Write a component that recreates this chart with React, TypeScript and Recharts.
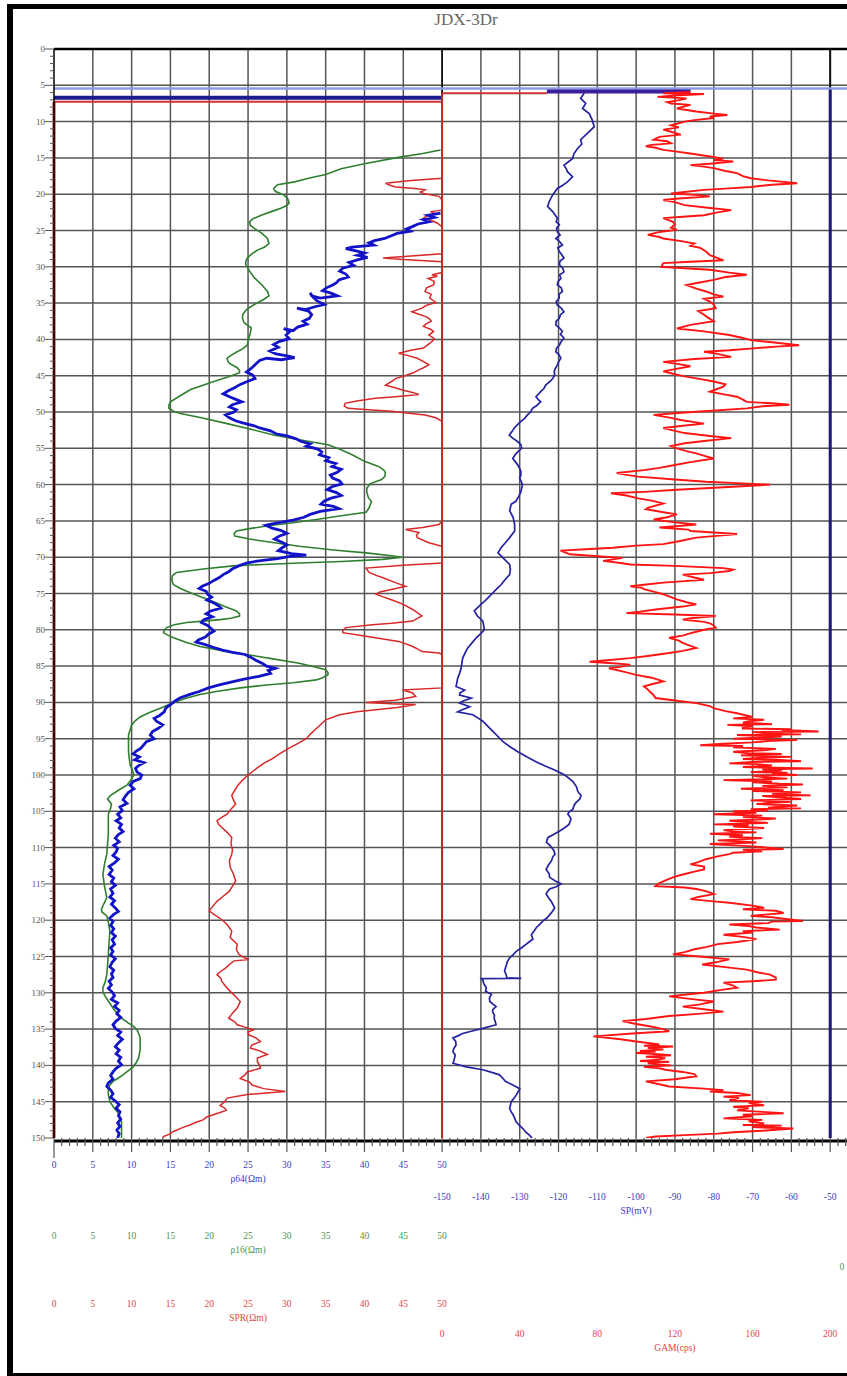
import React from 'react';
import { LineChart, Line, XAxis, YAxis, CartesianGrid, ReferenceLine } from 'recharts';

// ---------- data (depth d, value) ----------
const RHO16: [number, number][] = [
[13.9,49.8],[14.4,47.5],[15.0,44.0],[15.8,40.0],[16.5,37.0],[17.3,35.0],[17.8,32.8],[18.3,31.0],[18.7,28.8],[19.2,28.3],[19.6,28.5],[20.1,29.6],[20.6,30.1],[21.2,30.3],[21.6,29.9],[21.9,29.3],[22.4,28.0],[22.9,26.7],[23.4,25.6],[23.8,25.2],[24.3,25.3],[24.7,25.8],[25.4,26.8],[26.1,27.5],[26.8,27.7],[27.3,27.1],[27.7,26.2],[28.3,25.4],[28.8,24.9],[29.3,24.7],[29.7,24.7],[30.6,25.2],[31.5,25.8],[32.5,26.8],[33.4,27.5],[34.0,27.7],[34.5,27.0],[35.2,25.8],[35.9,24.8],[36.6,24.3],[37.2,24.3],[37.7,24.5],[38.4,25.4],[39.1,25.3],[39.8,25.1],[40.8,24.9],[41.3,24.3],[41.7,23.6],[42.2,22.8],[42.6,22.3],[43.0,22.4],[43.3,22.6],[43.9,23.6],[44.3,23.9],[44.6,23.9],[45.2,22.3],[45.8,20.6],[46.4,19.0],[46.9,17.6],[47.8,16.2],[48.6,15.0],[49.1,14.8],[49.5,14.8],[49.9,15.4],[50.2,16.3],[50.8,19.0],[51.6,22.3],[52.4,25.5],[53.2,28.4],[53.9,32.0],[54.5,35.3],[55.2,37.0],[56.0,38.6],[56.8,40.0],[57.5,41.8],[58.0,42.5],[58.4,42.7],[58.9,42.6],[59.3,42.2],[59.9,40.7],[60.5,40.3],[61.0,40.3],[61.8,40.5],[62.3,40.9],[63.2,40.6],[63.8,40.2],[64.3,37.0],[64.8,33.8],[65.3,30.5],[65.7,27.4],[66.1,25.0],[66.4,23.5],[66.8,23.2],[67.1,23.3],[67.5,25.2],[68.0,28.4],[68.5,31.6],[69.0,36.0],[69.4,40.2],[69.8,43.5],[70.0,44.9],[70.3,42.3],[70.6,37.0],[70.8,31.6],[71.0,27.0],[71.2,23.1],[71.6,19.5],[72.1,15.8],[72.5,15.3],[72.8,15.2],[73.3,15.2],[73.8,15.4],[74.3,16.3],[74.7,17.1],[75.4,18.8],[76.1,20.5],[76.8,22.0],[77.4,23.5],[77.8,23.9],[78.1,23.9],[78.4,22.8],[78.6,21.4],[78.8,19.2],[79.0,17.1],[79.3,15.5],[79.7,14.5],[80.1,14.2],[80.4,14.1],[80.8,14.8],[81.1,15.4],[81.7,17.0],[82.3,18.8],[82.9,21.8],[83.4,24.8],[84.0,28.2],[84.6,31.6],[85.1,33.5],[85.5,35.0],[85.9,35.3],[86.2,35.3],[86.6,34.6],[86.9,33.8],[87.3,30.8],[87.6,27.4],[88.0,24.0],[88.5,20.9],[88.9,18.8],[89.4,17.1],[89.8,16.0],[90.3,14.8],[90.8,13.7],[91.4,12.3],[92.0,11.1],[92.5,10.5],[93.1,10.0],[93.8,9.8],[94.5,9.6],[95.6,9.6],[96.8,9.6],[97.7,9.7],[98.6,9.8],[99.3,10.1],[100.0,10.3],[100.7,9.9],[101.4,9.4],[102.1,8.3],[102.8,7.3],[103.3,6.9],[104.0,7.4],[104.6,7.3],[105.4,7.0],[106.5,7.0],[108.1,7.0],[109.5,6.9],[110.9,6.8],[112.3,6.5],[113.7,6.3],[115.3,6.5],[116.9,6.8],[117.8,6.4],[118.5,6.1],[118.9,6.2],[119.4,6.8],[120.3,7.0],[121.5,7.2],[123.0,7.1],[124.7,7.0],[126.2,6.9],[127.5,6.8],[128.5,6.6],[129.3,6.3],[129.9,6.3],[130.5,6.6],[131.3,7.1],[132.1,7.6],[132.8,8.1],[133.5,8.7],[134.1,9.5],[134.6,10.2],[135.1,10.7],[135.6,10.9],[136.2,11.1],[136.7,11.1],[137.8,11.1],[139.0,10.9],[139.6,10.6],[140.2,10.2],[140.8,9.5],[141.3,8.9],[141.8,8.2],[142.2,7.6],[142.7,7.2],[143.2,7.0],[144.0,7.0],[145.0,7.2],[145.8,7.7],[146.6,8.3],[147.2,8.5],[147.8,8.7],[148.7,8.7],[150,8.7]];

const RHO64: [number, number][] = [
[22.6,49.8],[22.9,48.2],[23.2,49.0],[23.5,47.6],[23.8,48.3],[24.1,46.9],[24.5,46.1],[24.8,45.4],[25.1,45.9],[25.4,44.2],[25.8,43.3],[26.1,42.6],[26.4,41.3],[26.7,40.6],[27.0,41.2],[27.3,38.4],[27.5,37.6],[27.8,38.9],[28.1,40.0],[28.4,39.1],[28.7,40.4],[29.0,39.2],[29.4,38.0],[29.8,38.6],[30.2,37.2],[30.6,36.8],[31.0,37.6],[31.4,37.9],[31.8,36.7],[32.2,36.4],[32.5,35.9],[32.9,35.1],[33.3,34.6],[33.6,35.6],[34.0,36.5],[34.3,34.3],[34.0,33.2],[33.6,33.0],[34.2,33.4],[34.7,33.9],[35.2,34.8],[35.5,33.6],[35.9,32.4],[35.7,31.3],[36.1,32.8],[36.6,33.2],[37.1,32.9],[37.5,32.1],[37.9,32.6],[38.3,31.4],[38.8,30.8],[38.5,29.6],[38.9,30.4],[39.4,29.9],[39.9,30.3],[40.3,29.0],[40.7,28.3],[41.1,28.9],[41.6,27.8],[42.0,28.6],[42.3,30.2],[42.5,31.0],[42.8,29.3],[42.6,27.4],[42.9,26.5],[43.4,26.0],[44.0,25.4],[44.5,24.8],[44.9,25.6],[45.4,25.9],[45.8,24.9],[46.2,24.0],[46.7,23.2],[47.1,22.4],[47.5,21.8],[47.9,22.6],[48.3,23.5],[48.6,24.2],[49.0,23.0],[49.3,22.6],[49.7,23.5],[50.0,23.2],[50.4,22.1],[50.8,22.6],[51.2,23.4],[51.5,24.3],[51.9,25.8],[52.2,26.5],[52.6,27.9],[53.0,28.6],[53.3,30.0],[53.7,31.2],[54.0,31.7],[54.4,33.0],[54.7,32.5],[55.1,34.0],[55.5,34.5],[55.9,34.2],[56.3,35.4],[56.7,35.0],[57.1,36.3],[57.5,35.8],[57.9,37.0],[58.3,36.5],[58.7,35.6],[59.1,35.9],[59.5,36.8],[59.9,37.1],[60.3,35.8],[60.7,35.2],[61.1,36.4],[61.5,37.0],[61.9,35.6],[62.3,34.8],[62.7,34.4],[63.0,36.0],[63.3,36.7],[63.7,34.3],[64.1,33.0],[64.5,32.2],[64.9,30.8],[65.3,28.6],[65.6,27.3],[66.0,28.1],[66.3,29.2],[66.7,30.0],[67.1,29.0],[67.5,28.4],[67.9,29.3],[68.3,30.0],[68.7,29.4],[69.1,28.9],[69.5,30.6],[69.7,32.5],[69.9,30.4],[70.2,28.8],[70.5,26.4],[70.8,24.8],[71.2,23.8],[71.6,23.0],[72.0,22.5],[72.4,21.8],[72.8,21.3],[73.2,20.6],[73.6,20.0],[74.0,19.1],[74.3,18.7],[74.7,19.6],[75.1,19.8],[75.5,20.3],[75.9,19.7],[76.3,20.6],[76.7,21.2],[77.0,21.5],[77.4,20.2],[77.8,19.6],[78.2,20.4],[78.6,19.3],[79.0,19.0],[79.4,19.8],[79.8,20.2],[80.2,20.6],[80.6,19.9],[81.0,19.5],[81.4,18.6],[81.7,18.3],[82.0,19.4],[82.4,20.5],[82.8,21.7],[83.1,23.0],[83.4,24.6],[83.8,25.4],[84.2,26.0],[84.6,26.8],[85.0,27.4],[85.3,28.5],[85.6,27.6],[86.0,27.9],[86.4,26.4],[86.8,24.5],[87.2,22.8],[87.6,21.3],[88.0,19.9],[88.5,18.7],[88.9,17.5],[89.4,16.2],[89.8,15.6],[90.3,15.0],[90.8,14.4],[91.3,14.2],[91.8,13.6],[92.2,12.9],[92.6,13.2],[93.1,14.0],[93.6,13.4],[94.0,12.7],[94.5,12.4],[95.0,12.9],[95.4,11.9],[95.8,11.6],[96.3,11.2],[96.7,10.6],[97.1,10.2],[97.5,11.0],[97.9,10.4],[98.3,11.6],[98.7,10.9],[99.1,10.5],[99.6,10.7],[100.0,11.3],[100.5,11.1],[100.9,10.2],[101.4,9.8],[101.9,10.3],[102.4,9.6],[102.9,9.2],[103.4,8.9],[103.9,9.4],[104.4,8.5],[104.9,8.8],[105.4,8.2],[105.9,8.6],[106.3,8.0],[106.8,8.7],[107.3,8.4],[107.8,8.9],[108.2,8.3],[108.7,7.9],[109.2,8.4],[109.7,7.7],[110.1,8.2],[110.6,8.0],[111.1,7.6],[111.6,8.3],[112.1,7.8],[112.6,7.1],[113.1,7.5],[113.7,7.1],[114.2,7.7],[114.7,7.4],[115.2,7.9],[115.7,7.3],[116.3,7.6],[116.8,7.2],[117.3,7.8],[117.8,7.4],[118.3,7.9],[118.8,8.3],[119.2,7.7],[119.7,7.2],[120.2,7.6],[120.7,7.3],[121.2,7.7],[121.7,7.4],[122.2,7.9],[122.7,7.5],[123.3,7.8],[123.8,7.3],[124.3,7.6],[124.8,7.3],[125.3,7.9],[125.8,7.5],[126.4,7.2],[126.9,7.7],[127.4,7.4],[127.9,7.6],[128.4,7.1],[128.9,7.4],[129.4,7.0],[129.9,7.5],[130.4,7.8],[130.9,7.4],[131.4,8.2],[131.9,7.8],[132.4,8.4],[132.9,8.1],[133.4,8.6],[133.9,8.0],[134.4,7.6],[134.9,7.9],[135.4,8.6],[135.9,8.2],[136.4,8.8],[136.9,8.3],[137.4,7.9],[137.9,8.4],[138.4,8.0],[138.9,8.6],[139.4,8.3],[139.9,8.7],[140.4,8.0],[140.9,7.6],[141.4,7.3],[141.9,7.6],[142.4,7.0],[142.9,6.8],[143.4,7.3],[143.9,7.6],[144.4,7.3],[144.9,7.9],[145.4,8.4],[145.9,8.0],[146.4,8.5],[146.9,8.3],[147.4,8.6],[147.9,8.2],[148.4,8.5],[148.9,8.1],[149.4,8.4],[150,8.2]];

const SPR: [number, number][] = [
[7.3,50],[17.8,50],[18.1,46],[18.5,42.7],[18.8,43.4],[19.0,44.0],[19.2,46.5],[19.4,47.8],[19.7,47.2],[19.9,47.6],[20.3,49.6],[20.8,50],[22.2,50],[22.4,48.5],[22.7,49.2],[23.0,48.0],[23.3,47.6],[23.7,48.8],[24.0,49.4],[24.5,50],[28.2,50],[28.5,46],[28.8,42.4],[29.0,45],[29.3,50],[30.8,50],[31.1,48.7],[31.3,49.4],[31.6,48.2],[32.0,49.0],[32.5,48.9],[32.9,48.0],[33.4,47.8],[33.8,48.6],[34.3,48.4],[34.9,49.2],[35.3,48.0],[35.7,47.4],[36.0,46.6],[36.2,46.1],[36.5,46.9],[36.9,48.0],[37.2,48.4],[37.5,48.6],[37.9,47.9],[38.2,47.6],[38.6,48.5],[38.9,48.9],[39.4,48.3],[39.9,49.0],[40.3,48.7],[40.8,48.1],[41.2,47.6],[41.5,46.0],[41.9,44.4],[42.2,45.5],[42.6,46.8],[43.0,47.5],[43.5,48.3],[43.9,47.6],[44.2,47.0],[44.6,46.3],[45.0,45.2],[45.4,44.0],[45.8,43.5],[46.3,42.7],[46.6,43.7],[47.0,45.0],[47.3,46.2],[47.6,47.0],[47.9,44.0],[48.1,41.4],[48.5,39.0],[48.8,37.5],[49.2,37.4],[49.5,37.9],[49.7,40.5],[49.9,43.5],[50.2,46.0],[50.4,47.8],[50.8,49.2],[51.3,50],[65.0,50],[65.5,49.6],[65.9,47.5],[66.2,45.3],[66.6,47.0],[67.0,46.7],[67.3,46.8],[68.0,48.3],[68.5,50],[70.8,50],[71.1,45],[71.5,40.2],[72.1,40.6],[72.5,41.5],[72.8,42.3],[73.5,44.0],[74.0,45.3],[74.4,43.6],[74.8,42.0],[75.1,41.5],[75.5,42.5],[75.8,43.3],[76.5,45.0],[77.2,46.2],[78.1,47.4],[78.8,46.2],[79.1,43.5],[79.3,41.0],[79.7,37.6],[80.1,37.2],[80.4,37.2],[80.9,40.2],[81.6,44.4],[82.2,46.0],[82.5,46.6],[83.0,47.4],[83.2,49.6],[83.4,50],[88.0,50],[88.3,44.9],[88.7,46.2],[89.2,46.6],[89.5,45.0],[89.7,44.0],[90.0,40.2],[90.2,43.5],[90.3,46.6],[90.5,45.5],[90.7,44.2],[91.0,41.5],[91.3,39.0],[91.7,36.8],[92.4,35.0],[93.0,34.4],[93.6,33.8],[94.3,33.1],[95.0,32.5],[95.6,31.5],[96.3,30.3],[97.0,29.2],[97.7,28.2],[98.4,27.0],[99.1,26.1],[100.0,25.0],[100.7,24.3],[101.4,23.7],[102.1,23.3],[102.8,22.9],[103.4,23.1],[104.0,23.4],[104.7,22.8],[105.4,22.3],[105.9,21.5],[106.3,21.0],[106.8,21.2],[107.2,21.6],[107.9,22.3],[108.6,22.9],[109.5,22.8],[110.3,23.0],[110.9,22.9],[111.8,22.6],[112.7,22.7],[113.6,23.1],[114.6,23.4],[115.3,23.0],[116.0,22.6],[116.7,21.8],[117.4,21.0],[118.3,20.3],[118.7,20.0],[119.2,20.6],[119.9,21.6],[120.6,22.3],[121.5,22.9],[122.4,22.7],[123.3,23.6],[124.0,23.5],[124.7,23.8],[125.2,24.6],[125.4,25.1],[125.6,23.2],[126.1,22.6],[126.6,22.1],[127.1,21.4],[127.5,21.0],[128.0,21.5],[128.4,21.6],[129.1,22.1],[129.8,22.7],[130.5,23.4],[131.2,24.0],[132.1,23.6],[132.8,23.0],[133.5,22.5],[134.0,23.3],[134.4,23.6],[134.8,24.8],[135.1,25.7],[135.4,25.0],[135.8,25.1],[136.2,26.0],[136.7,26.6],[137.2,25.5],[137.6,25.3],[138.0,26.5],[138.5,27.5],[139.0,26.2],[139.5,26.2],[140.0,26.5],[140.4,26.6],[140.9,24.9],[141.3,24.6],[141.8,24.0],[142.3,25.2],[142.7,25.5],[143.2,27.0],[143.6,29.8],[144.0,24.9],[144.5,22.3],[145.0,22.0],[145.5,21.4],[145.9,22.0],[146.2,22.2],[146.7,20.8],[147.1,19.7],[147.5,19.2],[147.8,18.4],[148.2,17.5],[148.5,16.7],[149.1,15.4],[149.5,14.8],[149.8,14.1],[150,14.0]];

const SP: [number, number][] = [
[6.1,-113.4],[6.8,-114.3],[7.5,-113.0],[8.2,-113.8],[8.9,-112.1],[9.8,-111.3],[10.7,-110.8],[11.6,-112.5],[12.5,-114.3],[13.1,-114.0],[13.7,-115.1],[14.4,-116.0],[15.1,-116.4],[15.6,-117.6],[16.0,-118.6],[16.5,-118.0],[16.9,-117.7],[17.6,-116.4],[18.3,-117.7],[18.8,-119.0],[19.2,-120.3],[20.1,-121.5],[21.0,-122.4],[21.7,-122.8],[22.4,-121.5],[23.3,-120.3],[23.8,-120.6],[24.2,-119.8],[24.7,-120.5],[25.2,-120.3],[25.6,-119.6],[26.1,-120.7],[26.5,-119.8],[27.0,-119.0],[27.4,-120.2],[27.9,-119.8],[28.3,-119.2],[28.8,-118.6],[29.2,-119.6],[29.7,-119.8],[30.2,-118.9],[30.7,-118.6],[31.1,-119.7],[31.6,-119.4],[32.0,-120.1],[32.5,-120.3],[32.9,-119.3],[33.4,-119.0],[33.8,-119.9],[34.3,-119.8],[34.8,-120.6],[35.3,-120.3],[35.7,-119.3],[36.2,-118.6],[36.6,-119.5],[37.1,-119.8],[37.5,-120.6],[38.0,-120.7],[38.4,-119.8],[38.9,-119.0],[39.3,-119.5],[39.8,-118.6],[40.3,-119.3],[40.8,-119.8],[41.2,-120.5],[41.7,-120.7],[42.1,-119.9],[42.6,-119.4],[43.0,-119.9],[43.5,-120.3],[44.0,-120.8],[44.4,-121.1],[44.9,-121.0],[45.4,-121.5],[45.8,-122.2],[46.3,-123.3],[46.8,-123.8],[47.2,-124.6],[47.9,-125.8],[48.3,-125.2],[48.6,-124.6],[49.1,-125.6],[49.5,-126.7],[50.0,-127.2],[50.4,-128.0],[50.9,-128.8],[51.3,-129.7],[51.7,-130.5],[52.2,-131.4],[52.7,-132.0],[53.2,-132.7],[53.6,-131.8],[54.1,-130.5],[54.5,-129.7],[55.0,-129.5],[55.5,-130.5],[55.9,-131.2],[56.4,-131.8],[56.8,-131.2],[57.3,-130.5],[57.8,-130.0],[58.2,-129.7],[58.7,-129.7],[59.1,-130.0],[59.6,-129.6],[60.0,-129.3],[60.5,-129.5],[61.0,-129.7],[61.6,-130.2],[62.3,-131.0],[62.7,-132.2],[63.6,-132.6],[64.5,-131.7],[65.5,-131.3],[66.4,-131.3],[67.3,-132.6],[68.0,-133.7],[68.7,-134.8],[69.4,-135.6],[70.1,-134.3],[71.0,-132.6],[71.7,-132.4],[72.4,-132.6],[73.1,-133.8],[73.8,-134.8],[74.3,-135.8],[74.9,-136.9],[75.5,-138.0],[76.1,-139.1],[76.7,-140.4],[77.4,-141.7],[78.1,-140.9],[78.8,-139.5],[79.4,-139.3],[80.0,-139.1],[80.5,-140.0],[81.1,-141.2],[81.8,-142.3],[82.5,-143.4],[83.2,-144.1],[83.9,-144.7],[84.6,-144.9],[85.3,-145.1],[86.0,-145.5],[86.7,-146.0],[87.3,-146.2],[87.8,-146.4],[88.3,-144.2],[88.7,-145.4],[89.0,-145.5],[89.4,-142.5],[89.8,-144.6],[90.1,-145.5],[90.6,-142.9],[91.0,-144.8],[91.3,-146.0],[91.7,-142.1],[92.2,-140.6],[92.6,-139.5],[93.3,-138.2],[94.0,-136.9],[94.7,-135.6],[95.4,-134.3],[96.1,-132.5],[96.8,-130.5],[97.5,-128.2],[98.2,-125.7],[98.8,-123.3],[99.3,-121.0],[100.0,-118.4],[100.5,-117.2],[100.9,-116.3],[101.6,-115.4],[102.3,-115.0],[102.8,-114.2],[103.3,-114.5],[103.8,-115.5],[104.2,-116.0],[104.7,-116.3],[105.1,-117.3],[105.4,-117.6],[105.8,-117.0],[106.1,-116.8],[106.5,-117.1],[106.8,-117.3],[107.3,-118.5],[107.7,-119.7],[108.2,-121.3],[108.6,-122.7],[109.0,-123.0],[109.3,-123.1],[109.7,-122.2],[110.0,-121.8],[110.4,-121.2],[110.9,-120.9],[111.3,-121.5],[111.8,-121.8],[112.4,-122.6],[113.0,-123.2],[113.6,-122.4],[114.1,-122.3],[114.6,-120.8],[115.0,-119.3],[115.4,-120.6],[115.7,-122.3],[116.1,-122.9],[116.4,-123.2],[116.9,-122.6],[117.4,-121.9],[117.9,-121.4],[118.3,-121.0],[118.8,-121.6],[119.2,-122.2],[119.7,-123.0],[120.1,-124.0],[120.6,-124.9],[121.0,-125.7],[121.5,-126.3],[122.0,-127.0],[122.6,-126.6],[123.0,-127.6],[123.3,-128.3],[123.8,-129.5],[124.3,-130.9],[124.8,-131.8],[125.2,-132.6],[125.7,-133.2],[126.1,-133.4],[126.6,-133.7],[127.0,-133.9],[127.5,-133.5],[127.95,-133.3],[128.0,-129.6],[128.05,-139.9],[128.3,-139.5],[128.8,-139.2],[129.3,-138.6],[129.8,-138.8],[130.2,-137.3],[130.7,-137.8],[131.2,-137.7],[131.6,-136.8],[131.9,-136.1],[132.3,-136.9],[132.6,-137.0],[133.1,-136.5],[133.5,-136.6],[134.0,-136.3],[134.4,-136.1],[134.9,-139.5],[135.3,-142.5],[135.6,-144.7],[136.0,-146.2],[136.2,-147.2],[136.7,-146.5],[137.2,-146.4],[137.7,-147.0],[138.1,-147.2],[138.6,-146.6],[139.0,-146.8],[139.4,-147.0],[139.7,-147.2],[140.2,-143.8],[140.6,-139.5],[141.0,-137.0],[141.3,-135.2],[141.8,-134.3],[142.2,-133.7],[142.7,-131.8],[143.2,-130.0],[143.6,-130.4],[144.1,-130.9],[144.6,-131.6],[145.0,-132.2],[145.5,-132.4],[145.9,-132.6],[146.4,-132.2],[146.8,-131.7],[147.3,-131.3],[147.8,-130.9],[148.2,-130.2],[148.7,-129.2],[149.2,-128.4],[149.6,-127.5],[150,-126.8]];

const GR: [number, number][] = [
[5.9,128],[6.1,114],[6.2,135],[6.4,120],[6.6,111],[6.8,126],[7.0,123],[7.3,116],[7.5,118],[7.7,128],[7.9,125],[8.2,121],[8.6,131],[8.9,140],[9.1,147],[9.3,138],[9.5,140],[9.8,130],[10.0,125],[10.3,121],[10.5,118],[10.8,122],[11.1,114],[11.4,118],[11.8,123],[12.1,112],[12.5,109],[12.7,116],[13.0,118],[13.2,108],[13.4,105],[13.6,110],[13.9,114],[14.1,120],[14.4,128],[14.8,138],[15.1,145],[15.3,140],[15.5,150],[15.8,138],[16.0,128],[16.2,135],[16.4,140],[16.8,146],[17.1,152],[17.5,155],[17.8,159],[18.1,168],[18.5,183],[18.7,170],[19.0,159],[19.2,148],[19.4,135],[19.7,125],[19.9,118],[20.1,130],[20.3,138],[20.6,122],[20.8,114],[21.1,120],[21.5,125],[21.9,138],[22.2,149],[22.5,142],[22.9,135],[23.1,124],[23.3,114],[23.8,119],[24.2,120],[24.6,118],[24.9,121],[25.2,112],[25.6,106],[25.9,112],[26.1,114],[26.5,124],[26.8,130],[27.1,128],[27.4,133],[27.9,136],[28.4,138],[28.8,142],[29.1,145],[29.3,128],[29.5,114],[30.0,113],[30.2,125],[30.4,138],[30.8,148],[31.1,157],[31.4,146],[31.8,140],[32.2,132],[32.5,126],[33.0,131],[33.4,136],[33.8,140],[34.1,145],[34.4,135],[34.8,138],[35.2,140],[35.7,141],[36.1,132],[36.6,135],[37.0,137],[37.5,140],[38.0,128],[38.5,121],[38.9,135],[39.4,148],[39.8,155],[40.1,159],[40.4,170],[40.8,184],[41.0,172],[41.2,162],[41.5,148],[41.7,135],[42.0,142],[42.4,149],[42.7,130],[43.1,114],[43.4,122],[43.7,128],[44.1,120],[44.4,114],[44.8,120],[45.1,125],[45.5,134],[45.8,140],[46.2,146],[46.5,145],[46.9,141],[47.2,138],[47.6,146],[47.9,152],[48.3,155],[48.6,157],[48.8,170],[49.0,179],[49.2,165],[49.5,157],[49.9,135],[50.2,118],[50.4,109],[50.8,118],[51.1,123],[51.4,130],[51.6,135],[51.9,124],[52.2,114],[52.6,120],[52.9,125],[53.3,138],[53.6,149],[54.0,135],[54.3,125],[54.7,118],[55.0,121],[55.4,126],[55.7,131],[56.1,136],[56.4,140],[56.9,128],[57.3,120],[57.7,112],[58.0,104],[58.4,90],[58.7,96],[58.9,101],[59.3,120],[59.6,136],[59.8,152],[60.0,169],[60.3,150],[60.7,121],[61.0,104],[61.2,87],[61.5,95],[61.9,101],[62.2,108],[62.6,114],[62.9,110],[63.2,106],[63.4,105],[63.8,114],[64.1,121],[64.5,116],[64.8,109],[65.2,120],[65.5,131],[65.7,122],[65.9,112],[66.2,127],[66.4,128],[66.8,152],[67.1,140],[67.3,131],[67.8,122],[68.2,114],[68.4,100],[68.7,88],[68.9,74],[69.1,61],[69.4,64],[69.6,66],[69.9,82],[70.1,93],[70.3,88],[70.5,83],[70.8,92],[71.0,97],[71.2,120],[71.5,145],[71.7,150],[71.9,148],[72.2,138],[72.4,124],[72.8,130],[73.1,135],[73.3,125],[73.5,114],[73.8,104],[74.0,97],[74.2,103],[74.4,104],[74.8,110],[75.1,114],[75.5,118],[75.8,121],[76.2,126],[76.5,131],[76.8,124],[77.2,110],[77.5,102],[77.7,95],[77.9,120],[78.1,141],[78.4,128],[78.6,124],[78.9,135],[79.1,138],[79.4,140],[79.7,141],[80.0,135],[80.4,129],[80.8,124],[81.1,117],[81.5,122],[81.8,124],[82.2,128],[82.5,131],[82.9,124],[83.2,117],[83.6,106],[83.9,97],[84.2,85],[84.4,76],[84.6,88],[84.8,97],[85.1,92],[85.3,86],[85.8,94],[86.2,100],[86.6,108],[87.1,114],[87.5,108],[87.8,104],[88.2,106],[88.5,107],[89.0,109],[89.4,110],[89.8,122],[90.1,131],[90.5,138],[90.8,140],[91.2,146],[91.5,152],[92.0,160],[92.2,150],[92.4,166],[92.6,158],[92.8,155],[93.0,170],[93.1,147],[93.3,160],[93.4,155],[93.6,155],[93.7,180],[93.8,175],[94.0,194],[94.1,160],[94.3,170],[94.4,185],[94.5,152],[94.7,175],[94.8,168],[95.0,150],[95.2,183],[95.3,170],[95.5,160],[95.7,145],[95.9,133],[96.0,155],[96.2,150],[96.4,172],[96.6,166],[96.8,150],[97.0,158],[97.1,175],[97.3,154],[97.5,180],[97.6,165],[97.8,155],[97.9,172],[98.1,185],[98.2,160],[98.4,148],[98.5,162],[98.7,170],[98.9,155],[99.1,191],[99.2,165],[99.4,175],[99.6,159],[99.7,178],[99.8,170],[100.0,183],[100.1,160],[100.3,165],[100.5,178],[100.7,145],[100.9,170],[101.0,160],[101.2,174],[101.3,186],[101.5,165],[101.7,178],[101.9,154],[102.1,176],[102.2,160],[102.4,185],[102.6,170],[102.8,190],[102.9,165],[103.1,175],[103.3,185],[103.5,159],[103.7,180],[103.8,170],[104.0,162],[104.2,183],[104.4,172],[104.5,168],[104.6,185],[104.7,159],[104.9,168],[105.0,150],[105.2,162],[105.4,140],[105.6,165],[105.8,155],[106.0,172],[106.1,166],[106.3,148],[106.4,155],[106.6,168],[106.8,140],[106.9,158],[107.1,150],[107.3,166],[107.4,159],[107.6,145],[107.8,150],[107.9,162],[108.1,138],[108.3,155],[108.5,148],[108.7,165],[108.8,159],[109.0,142],[109.1,150],[109.3,162],[109.5,138],[109.7,150],[109.8,158],[110.0,168],[110.2,176],[110.3,155],[110.5,165],[110.7,150],[110.9,148],[111.2,142],[111.6,136],[112.0,132],[112.3,128],[112.6,135],[113.0,135],[113.3,130],[113.7,124],[114.0,120],[114.4,116],[114.9,112],[115.3,110],[115.5,125],[115.7,131],[116.0,136],[116.4,140],[116.8,132],[117.1,128],[117.4,140],[117.6,148],[118.0,160],[118.3,166],[118.5,155],[118.7,172],[119.0,176],[119.2,168],[119.4,159],[119.6,170],[119.8,176],[120.1,186],[120.2,170],[120.4,168],[120.6,148],[120.8,158],[121.0,162],[121.3,174],[121.5,155],[121.7,160],[122.0,145],[122.3,155],[122.6,162],[123.0,152],[123.3,142],[123.7,136],[124.0,130],[124.4,125],[124.7,119],[125.0,133],[125.4,148],[125.8,141],[126.1,134],[126.5,147],[126.8,157],[127.2,163],[127.5,169],[127.9,172],[128.2,172],[128.4,160],[128.6,145],[129.0,150],[129.3,152],[129.6,144],[130.0,135],[130.2,127],[130.5,117],[130.9,130],[131.2,140],[131.6,133],[131.9,124],[132.3,136],[132.6,145],[132.9,132],[133.2,117],[133.6,105],[133.9,93],[134.3,100],[134.6,107],[135.0,114],[135.3,117],[135.6,98],[136.0,78],[136.4,92],[136.7,100],[137.1,112],[137.3,104],[137.4,119],[137.6,106],[137.8,114],[138.0,102],[138.1,110],[138.3,100],[138.4,108],[138.6,118],[138.8,105],[139.0,115],[139.2,112],[139.4,102],[139.5,117],[139.7,106],[139.9,112],[140.0,118],[140.2,104],[140.4,112],[140.6,115],[140.9,124],[141.2,130],[141.5,131],[141.9,120],[142.2,105],[142.6,112],[142.9,117],[143.2,135],[143.4,145],[143.6,138],[143.8,152],[144.1,159],[144.3,145],[144.5,153],[144.8,148],[145.0,165],[145.2,158],[145.5,166],[145.7,150],[145.9,158],[146.2,152],[146.4,165],[146.6,176],[146.8,155],[147.0,160],[147.3,145],[147.5,165],[147.7,158],[148.0,166],[148.2,155],[148.3,175],[148.5,160],[148.7,181],[149.0,165],[149.2,150],[149.4,142],[149.6,125],[149.8,110],[150,105]];

// ---------- ticks / labels ----------
const DEPTH_TICKS = Array.from({ length: 151 }, (_, i) => i);
const RULER_TICKS = Array.from({ length: 106 }, (_, i) => i);
const RHO_TICKS = [0, 5, 10, 15, 20, 25, 30, 35, 40, 45, 50];
const SP_TICKS = [-150, -140, -130, -120, -110, -100, -90, -80, -70, -60, -50];
const GR_TICKS = [0, 40, 80, 120, 160, 200];
const RHO16R_TICKS = [0];
const GRID_X = [5, 10, 15, 20, 25, 30, 35, 40, 45, 50, 55, 60, 65, 70, 75, 80, 85, 90, 95, 100];
const GRID_Y = [5, 10, 15, 20, 25, 30, 35, 40, 45, 50, 55, 60, 65, 70, 75, 80, 85, 90, 95, 100, 105, 110, 115, 120, 125, 130, 135, 140, 145];

const toPts = (arr: [number, number][]) => arr.map(([d, v]) => ({ d, v }));

const W = 880;
const H = 1376;
const MARGIN = { top: 49, right: 11, bottom: 232, left: 4 };
const PLOT_BOTTOM = 1138;
const FONT = "'Liberation Serif', 'DejaVu Serif', serif";

const BLUE_T = '#3b3bbf';
const GREEN_T = '#4f944f';
const RED_T = '#e24545';

const DepthTick = (props: any) => {
  const { x, y, payload } = props;
  const v = payload.value;
  const major = v % 5 === 0;
  return (
    <g>
      <line x1={x - (major ? 9 : 4)} x2={x} y1={y} y2={y} stroke="#555" strokeWidth={1} />
      {major && (
        <text x={x - 9} y={y} textAnchor="end" dominantBaseline="central" fontSize={9} fill="#555" fontFamily={FONT}>
          {v}
        </text>
      )}
    </g>
  );
};

const RulerTick = (props: any) => {
  const { x, payload } = props;
  const v = payload.value;
  const major = v % 5 === 0;
  return (
    <g>
      <line x1={x} x2={x} y1={PLOT_BOTTOM} y2={PLOT_BOTTOM + (v === 0 ? 20 : major ? 14 : 8)} stroke="#555" strokeWidth={1.2} />
      {major && v <= 50 && (
        <text x={x} y={PLOT_BOTTOM + 27} textAnchor="middle" dominantBaseline="central" fontSize={9.5} fill={BLUE_T} fontFamily={FONT}>
          {v}
        </text>
      )}
      {v === 25 && (
        <text x={x} y={PLOT_BOTTOM + 41} textAnchor="middle" dominantBaseline="central" fontSize={9.5} fill={BLUE_T} fontFamily={FONT}>
          ρ64(Ωm)
        </text>
      )}
    </g>
  );
};

const makeTick = (color: string, dy: number, title: string, titleAt: number) => (props: any) => {
  const { x, payload } = props;
  const v = payload.value;
  return (
    <g>
      <text x={x} y={PLOT_BOTTOM + dy} textAnchor="middle" dominantBaseline="central" fontSize={9.5} fill={color} fontFamily={FONT}>
        {v}
      </text>
      {title && v === titleAt && (
        <text x={x} y={PLOT_BOTTOM + dy + 14} textAnchor="middle" dominantBaseline="central" fontSize={9.5} fill={color} fontFamily={FONT}>
          {title}
        </text>
      )}
    </g>
  );
};

const SpTick = makeTick(BLUE_T, 59, 'SP(mV)', -100);
const Rho16Tick = makeTick(GREEN_T, 98, 'ρ16(Ωm)', 25);
const SprTick = makeTick(RED_T, 166, 'SPR(Ωm)', 25);
const GrTick = makeTick(RED_T, 196, 'GAM(cps)', 120);
const Rho16RTick = makeTick(GREEN_T, 129, '', 0);

export default function App() {
  const axisCommon = {
    type: 'number' as const,
    orientation: 'bottom' as const,
    height: 1,
    tickSize: 0,
    tickMargin: 0,
    interval: 0 as const,
    allowDataOverflow: true,
    axisLine: false,
    tickLine: false,
  };
  return (
    <div style={{ position: 'relative', width: 847, height: H, overflow: 'hidden', background: '#fff' }}>
      <style>{`body{margin:0;background:#fff}`}</style>
      <div style={{ position: 'absolute', left: 0, top: 0 }}>
        <LineChart width={W} height={H} layout="vertical" margin={MARGIN}>
          <CartesianGrid
            xAxisId="ruler"
            yAxisId="depth"
            verticalValues={GRID_X}
            horizontalValues={GRID_Y}
            stroke="#555"
            strokeWidth={1.5}
          />
          <YAxis
            yAxisId="depth"
            type="number"
            dataKey="d"
            domain={[0, 150]}
            allowDataOverflow
            ticks={DEPTH_TICKS}
            interval={0}
            width={50}
            tickSize={0}
            tickMargin={0}
            tickLine={false}
            tick={<DepthTick />}
            axisLine={{ stroke: '#000', strokeWidth: 1.5 }}
          />
          <XAxis
            {...axisCommon}
            xAxisId="ruler"
            domain={[0, 105]}
            ticks={RULER_TICKS}
            tick={<RulerTick />}
            axisLine={{ stroke: '#000', strokeWidth: 3 }}
          />
          <XAxis {...axisCommon} xAxisId="sp" domain={[-250, -40]} ticks={SP_TICKS} tick={<SpTick />} />
          <XAxis {...axisCommon} xAxisId="rho16" domain={[0, 105]} ticks={RHO_TICKS} tick={<Rho16Tick />} />
          <XAxis {...axisCommon} xAxisId="rho16r" domain={[-101.5, 3.5]} ticks={RHO16R_TICKS} tick={<Rho16RTick />} />
          <XAxis {...axisCommon} xAxisId="spr" domain={[0, 105]} ticks={RHO_TICKS} tick={<SprTick />} />
          <XAxis {...axisCommon} xAxisId="gr" domain={[-200, 220]} ticks={GR_TICKS} tick={<GrTick />} />

          {/* top / boundary lines */}
          <ReferenceLine xAxisId="ruler" yAxisId="depth" y={0} stroke="#000" strokeWidth={2.5} />
          <ReferenceLine xAxisId="ruler" yAxisId="depth" x={50} stroke="#000" strokeWidth={1.5} />
          <ReferenceLine xAxisId="ruler" yAxisId="depth" x={100} stroke="#111" strokeWidth={2} />
          <ReferenceLine xAxisId="ruler" yAxisId="depth" segment={[{ x: 0, y: 5.45 }, { x: 105, y: 5.45 }]} stroke="#8d9be6" strokeWidth={2.5} />
          <ReferenceLine xAxisId="ruler" yAxisId="depth" segment={[{ x: 0, y: 6.72 }, { x: 50, y: 6.72 }]} stroke="#1c1c8c" strokeWidth={4} />
          <ReferenceLine xAxisId="ruler" yAxisId="depth" segment={[{ x: 0, y: 7.27 }, { x: 50, y: 7.27 }]} stroke="#d43030" strokeWidth={2} />
          <ReferenceLine xAxisId="ruler" yAxisId="depth" segment={[{ x: 50, y: 6.1 }, { x: 63.5, y: 6.1 }]} stroke="#d43030" strokeWidth={2} />
          <ReferenceLine xAxisId="ruler" yAxisId="depth" segment={[{ x: 63.5, y: 5.85 }, { x: 82, y: 5.85 }]} stroke="#3b1d9e" strokeWidth={4} />
          <ReferenceLine xAxisId="ruler" yAxisId="depth" segment={[{ x: 0, y: 7.27 }, { x: 0, y: 150 }]} stroke="#b42828" strokeWidth={3} />
          <ReferenceLine xAxisId="ruler" yAxisId="depth" segment={[{ x: 50, y: 6.1 }, { x: 50, y: 150 }]} stroke="#c42a2a" strokeWidth={2} />
          <ReferenceLine xAxisId="ruler" yAxisId="depth" segment={[{ x: 100, y: 5.6 }, { x: 100, y: 150 }]} stroke="#1a1a78" strokeWidth={3} />

          {/* curves */}
          <Line data={toPts(SPR)} dataKey="v" xAxisId="spr" yAxisId="depth" type="linear" stroke="#d82828" strokeWidth={1.5} dot={false} isAnimationActive={false} />
          <Line data={toPts(RHO16)} dataKey="v" xAxisId="rho16" yAxisId="depth" type="linear" stroke="#2f7f2f" strokeWidth={1.6} dot={false} isAnimationActive={false} />
          <Line data={toPts(RHO64)} dataKey="v" xAxisId="ruler" yAxisId="depth" type="linear" stroke="#1212c8" strokeWidth={2.8} dot={false} isAnimationActive={false} />
          <Line data={toPts(SP)} dataKey="v" xAxisId="sp" yAxisId="depth" type="linear" stroke="#2222a2" strokeWidth={1.7} dot={false} isAnimationActive={false} />
          <Line data={toPts(GR)} dataKey="v" xAxisId="gr" yAxisId="depth" type="linear" stroke="#ff1414" strokeWidth={1.9} dot={false} isAnimationActive={false} />
        </LineChart>
      </div>
      <div
        style={{
          position: 'absolute',
          left: 366,
          width: 200,
          top: 10,
          textAlign: 'center',
          fontFamily: FONT,
          fontSize: 17,
          color: '#666',
        }}
      >
        JDX-3Dr
      </div>
      <div style={{ position: 'absolute', left: 7, top: 4, width: 6, height: 1372, background: '#000' }} />
      <div style={{ position: 'absolute', left: 7, top: 4, width: 840, height: 5, background: '#000' }} />
      <div style={{ position: 'absolute', left: 7, top: 1373, width: 840, height: 3, background: '#000' }} />
    </div>
  );
}
